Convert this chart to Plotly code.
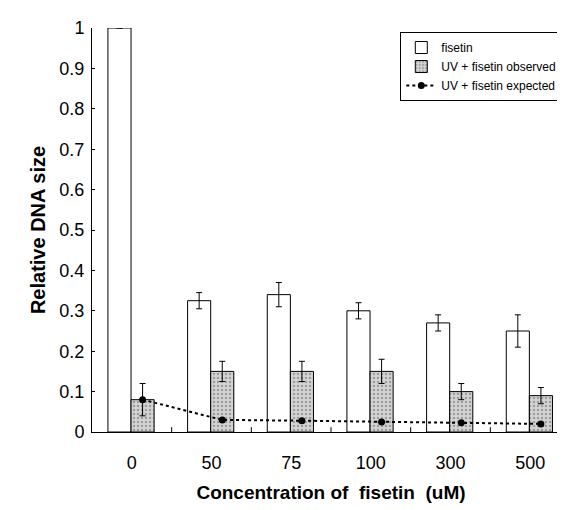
import plotly.graph_objects as go

categories = ["0", "50", "75", "100", "300", "500"]
fisetin = [1.0, 0.325, 0.34, 0.30, 0.27, 0.25]
fisetin_err = [0.0, 0.02, 0.03, 0.02, 0.02, 0.04]
observed = [0.08, 0.15, 0.15, 0.15, 0.10, 0.09]
observed_err = [0.04, 0.025, 0.025, 0.03, 0.02, 0.02]
expected = [0.08, 0.03, 0.028, 0.025, 0.023, 0.02]
y_ticks = [0, 0.1, 0.2, 0.3, 0.4, 0.5, 0.6, 0.7, 0.8, 0.9, 1]
y_tick_labels = ["0", "0.1", "0.2", "0.3", "0.4", "0.5", "0.6", "0.7", "0.8", "0.9", "1"]

xs = list(range(len(categories)))
W = 0.29

fig = go.Figure()
fig.add_trace(go.Bar(
    x=xs, y=fisetin, name="fisetin", width=W, offset=-0.30,
    marker=dict(color="white", line=dict(color="black", width=1)),
    error_y=dict(type="data", array=fisetin_err, color="black", thickness=1, width=3),
))
fig.add_trace(go.Bar(
    x=xs, y=observed, name="UV + fisetin observed", width=W, offset=-0.01,
    marker=dict(color="#c8c8c8", line=dict(color="black", width=1),
                pattern=dict(shape=".", fgcolor="#666666", bgcolor="#d4d4d4", size=4, solidity=0.3)),
    error_y=dict(type="data", array=observed_err, color="black", thickness=1, width=3),
))
fig.add_trace(go.Scatter(
    x=[x + 0.135 for x in xs], y=expected, name="UV + fisetin expected",
    mode="lines+markers",
    line=dict(color="black", width=2, dash="dot"),
    marker=dict(color="black", size=7, symbol="circle"),
))

fig.update_layout(
    width=565, height=510,
    margin=dict(l=84, r=3, t=20, b=86),
    plot_bgcolor="white", paper_bgcolor="white",
    font=dict(family="Liberation Sans, Arial", size=17, color="black"),
    barmode="overlay",
    showlegend=True,
    legend=dict(x=0.645, y=0.99, xanchor="left", yanchor="top",
                bordercolor="black", borderwidth=1, bgcolor="white",
                font=dict(size=12, family="Liberation Sans, Arial"),
                tracegroupgap=0, itemwidth=30),
    xaxis=dict(
        range=[-0.5, 5.5],
        tickmode="array", tickvals=xs, ticktext=categories,
        ticks="", showline=True, linecolor="black", linewidth=1,
        showgrid=False, zeroline=False,
        tickfont=dict(size=18), ticklabelstandoff=14,
        title=dict(text="<b>Concentration of  fisetin  (uM)</b>",
                   font=dict(family="Liberation Sans, Arial", size=19), standoff=14),
    ),
    yaxis=dict(
        range=[0, 1],
        tickmode="array", tickvals=y_ticks, ticktext=y_tick_labels,
        ticks="inside", ticklen=3, tickcolor="black",
        showline=True, linecolor="black", linewidth=1,
        showgrid=False, zeroline=False,
        tickfont=dict(size=18), ticklabelstandoff=3,
        title=dict(text="<b>Relative DNA size</b>",
                   font=dict(family="Liberation Sans, Arial", size=20), standoff=8),
    ),
)

# category boundary ticks on x axis (drawn from the category positions)
for b in [x + 0.5 for x in xs[:-1]] + [5.5]:
    fig.add_shape(type="line", xref="x", yref="paper", x0=b, x1=b, y0=0, y1=0.012,
                  line=dict(color="black", width=1))

fig.write_html("out.html")
